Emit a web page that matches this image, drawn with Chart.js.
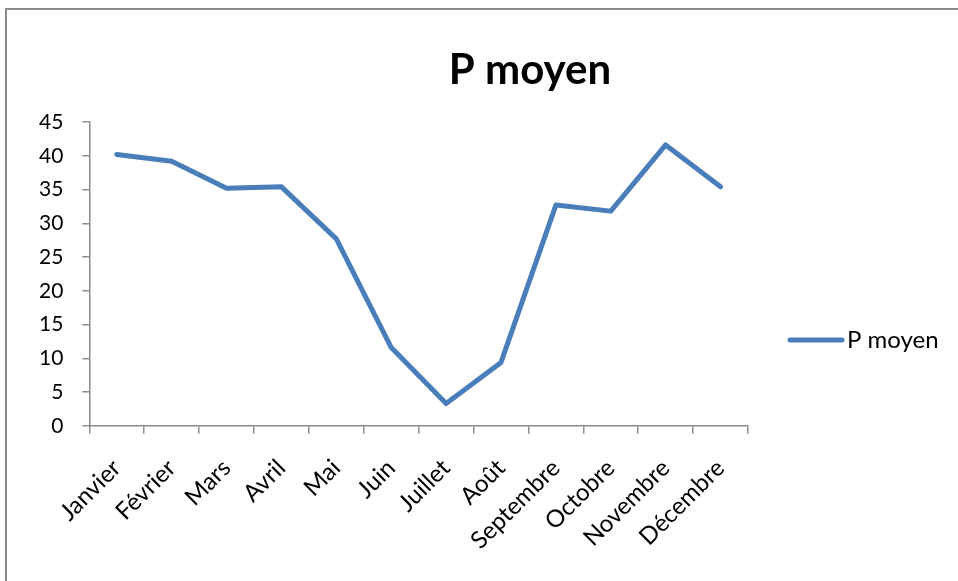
<!DOCTYPE html>
<html>
<head>
<meta charset="utf-8">
<script src="https://cdn.jsdelivr.net/npm/chart.js@4"></script>
<style>
  html, body { margin: 0; padding: 0; background: #fff; overflow: hidden; }
  #frame {
    position: absolute; left: 5px; top: 8px;
    width: 1050px; height: 600px;
    border: 2px solid #8c8c8c; box-sizing: border-box;
  }
  #frame canvas { display: block; }
</style>
</head>
<body>
<div id="frame"><canvas id="moodChart" width="1046" height="569"></canvas></div>
<script>
// Data
const months = ['Janvier', 'Février', 'Mars', 'Avril', 'Mai', 'Juin',
                'Juillet', 'Août', 'Septembre', 'Octobre', 'Novembre', 'Décembre'];
const pMoyen = [40.2, 39.2, 35.2, 35.4, 27.7, 11.6, 3.3, 9.4, 32.7, 31.8, 41.6, 35.4];
const seriesName = 'P moyen';
const yMin = 0, yMax = 45, yStep = 5;

const lineColor = '#4a7ebb';
const axisColor = '#8c8c8c';
const font = 'Lato, "Open Sans", sans-serif';

// title + Excel-like legend on the right
const decorations = {
    id: 'decorations',
    afterDraw(chart) {
        const ctx = chart.ctx;
        ctx.save();
        ctx.fillStyle = '#000';
        ctx.font = 'bold 42px ' + font;
        ctx.textAlign = 'center';
        ctx.textBaseline = 'alphabetic';
        ctx.fillText(seriesName, chart.width / 2, 74);

        const x = chart.chartArea.right + 42;
        const y = 330;
        ctx.strokeStyle = lineColor;
        ctx.lineWidth = 5;
        ctx.lineCap = 'round';
        ctx.beginPath();
        ctx.moveTo(x, y);
        ctx.lineTo(x + 52, y);
        ctx.stroke();
        ctx.font = '24px ' + font;
        ctx.textAlign = 'left';
        ctx.textBaseline = 'middle';
        ctx.fillText(seriesName, x + 57, y);
        ctx.restore();
    }
};

const ctx = document.getElementById('moodChart').getContext('2d');
new Chart(ctx, {
    type: 'line',
    data: {
        labels: months,
        datasets: [{
            label: seriesName,
            data: pMoyen,
            borderColor: lineColor,
            borderWidth: 5,
            borderCapStyle: 'round',
            borderJoinStyle: 'round',
            pointRadius: 0,
            tension: 0,
            fill: false
        }]
    },
    options: {
        responsive: false,
        animation: false,
        layout: { padding: { left: 13, right: 305, top: 112, bottom: 4 } },
        plugins: {
            legend: { display: false },
            tooltip: { enabled: false },
            title: { display: false }
        },
        scales: {
            x: {
                offset: true,
                afterFit(scale) { scale.paddingLeft = 0; scale.paddingRight = 0; },
                grid: { offset: true, drawOnChartArea: false, color: axisColor, tickLength: 8, lineWidth: 1.5 },
                border: { color: axisColor, width: 1.5 },
                ticks: { color: '#000', font: { family: font, size: 24 }, minRotation: 45, maxRotation: 45, autoSkip: false, padding: 20 }
            },
            y: {
                min: yMin, max: yMax,
                grid: { drawOnChartArea: false, color: axisColor, tickLength: 7, lineWidth: 1.5 },
                border: { color: axisColor, width: 1.5 },
                ticks: { stepSize: yStep, color: '#000', font: { family: font, size: 21 }, padding: 19 }
            }
        }
    },
    plugins: [decorations]
});
</script>
</body>
</html>
